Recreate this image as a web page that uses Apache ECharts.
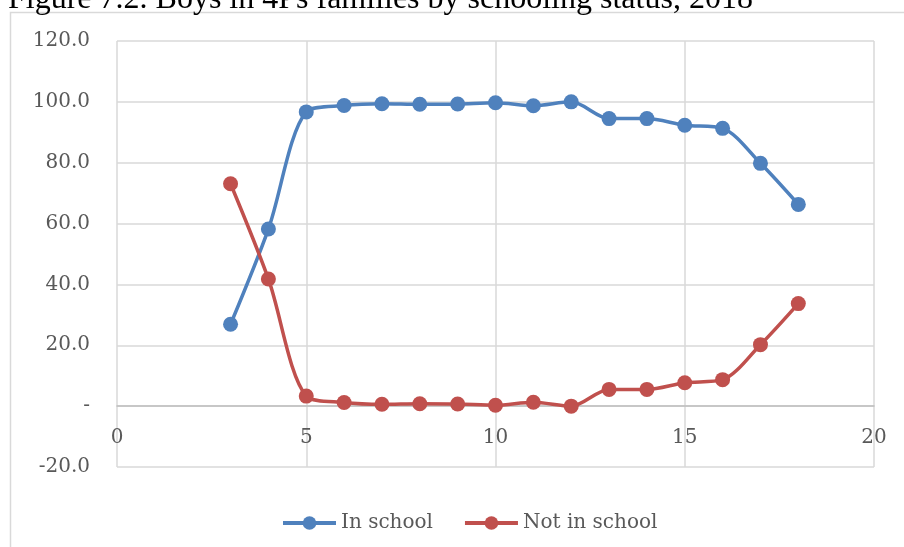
<!DOCTYPE html>
<html>
<head>
<meta charset="utf-8">
<script src="https://cdn.jsdelivr.net/npm/echarts@6/dist/echarts.min.js"></script>
<style>
  html, body { margin: 0; padding: 0; background: #fff; }
  #chart { width: 904px; height: 547px; }
</style>
</head>
<body>
<div id="chart"></div>
<script>
// Age of boys (years)
const ages = [3, 4, 5, 6, 7, 8, 9, 10, 11, 12, 13, 14, 15, 16, 17, 18];
// Share of boys in school (%)
const inSchool = [26.9, 58.2, 96.7, 98.8, 99.4, 99.2, 99.3, 99.7, 98.7, 100.0, 94.5, 94.5, 92.3, 91.3, 79.8, 66.3];
// Share of boys not in school (%)
const notInSchool = [73.1, 41.8, 3.3, 1.2, 0.6, 0.8, 0.7, 0.3, 1.3, 0.0, 5.5, 5.5, 7.7, 8.7, 20.2, 33.7];

const titleText = 'Figure 7.2. Boys in 4Ps families by schooling status, 2018';
const seriesNames = ['In school', 'Not in school'];
const seriesColors = ['#4F81BD', '#C0504D'];

const labelFont = 'DejaVu Serif';
const labelColor = '#595959';
const gridColor = '#d9d9d9';

const chart = echarts.init(document.getElementById('chart'), null, { renderer: 'canvas' });

function pairs(values) {
  return ages.map((a, i) => [a, values[i]]);
}

const makeSeries = (name, values, color) => ({
  name: name,
  type: 'line',
  data: pairs(values),
  smooth: 0.3,
  symbol: 'circle',
  symbolSize: 15,
  lineStyle: { color: color, width: 3.5 },
  itemStyle: { color: color },
  emphasis: { disabled: true },
  animation: false
});

chart.setOption({
  animation: false,
  backgroundColor: '#ffffff',
  graphic: [
    {
      type: 'rect',
      shape: { x: 10.5, y: 12.5, width: 1000, height: 600 },
      style: { fill: 'none', stroke: gridColor, lineWidth: 1.5 },
      silent: true,
      z: -10
    },
    {
      type: 'text',
      x: 8,
      y: 16,
      style: {
        text: titleText,
        font: '32px "Liberation Serif", "Times New Roman", serif',
        fill: '#000000',
        verticalAlign: 'bottom',
        align: 'left'
      },
      silent: true
    }
  ],
  grid: { left: 117, right: 30, top: 41, bottom: 80, containLabel: false },
  legend: {
    data: seriesNames,
    left: 276,
    top: 508,
    itemWidth: 53,
    itemHeight: 17,
    itemGap: 30,
    lineStyle: { width: 4 },
    textStyle: { fontFamily: labelFont, fontSize: 20, color: labelColor },
    selectedMode: false
  },
  xAxis: {
    type: 'value',
    min: 0,
    max: 20,
    interval: 5,
    axisLine: { show: true, onZero: true, lineStyle: { color: '#bfbfbf', width: 1.5 } },
    axisTick: { show: false },
    // tick labels sit just under the zero line
    axisLabel: { fontFamily: labelFont, fontSize: 20, color: labelColor, margin: -39 },
    splitLine: { show: true, lineStyle: { color: gridColor, width: 1.5 } }
  },
  yAxis: {
    type: 'value',
    min: -20,
    max: 120,
    interval: 20,
    axisLine: { show: false },
    axisTick: { show: false },
    axisLabel: {
      fontFamily: labelFont,
      fontSize: 20,
      color: labelColor,
      margin: 27,
      formatter: v => (v === 0 ? '-' : v.toFixed(1))
    },
    splitLine: { show: true, lineStyle: { color: gridColor, width: 1.5 } }
  },
  series: [
    makeSeries(seriesNames[0], inSchool, seriesColors[0]),
    makeSeries(seriesNames[1], notInSchool, seriesColors[1])
  ]
});
</script>
</body>
</html>
